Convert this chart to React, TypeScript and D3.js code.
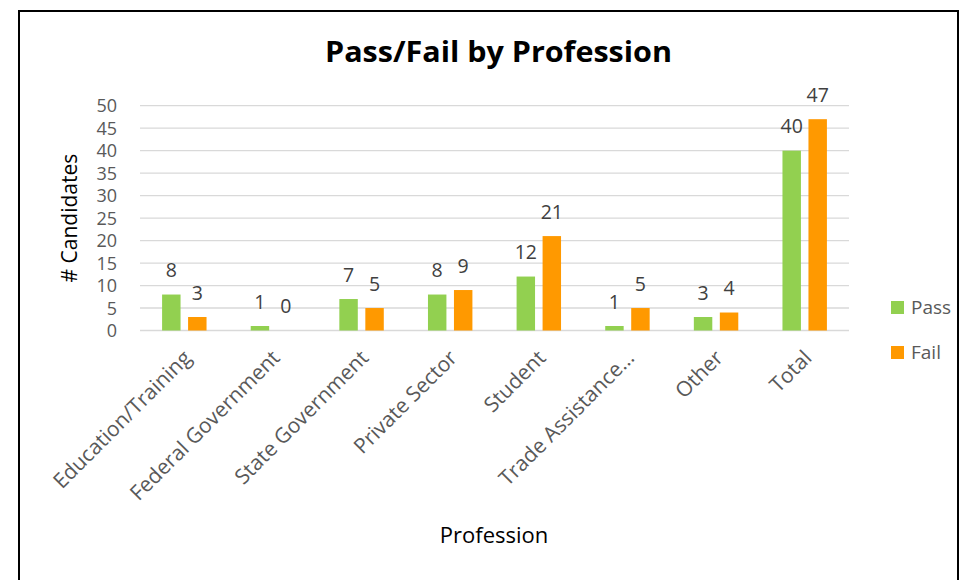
import React from "react";
import * as d3 from "d3";

const categories = [
  "Education/Training",
  "Federal Government",
  "State Government",
  "Private Sector",
  "Student",
  "Trade Assistance…",
  "Other",
  "Total",
];
const passValues = [8, 1, 7, 8, 12, 1, 3, 40];
const failValues = [3, 0, 5, 9, 21, 5, 4, 47];
const seriesNames = ["Pass", "Fail"];
const seriesColors = ["#92D050", "#FF9900"];
const yTicks = [0, 5, 10, 15, 20, 25, 30, 35, 40, 45, 50];

const W = 962;
const H = 580;
const plot = { left: 140, right: 849, top: 105.7, bottom: 330.5 };
const FONT = "'Open Sans', sans-serif";

export default function App() {
  const x = d3.scaleBand<string>().domain(categories).range([plot.left, plot.right]).padding(0);
  const y = d3.scaleLinear().domain([0, 50]).range([plot.bottom, plot.top]);
  const inner = d3
    .scaleBand<string>()
    .domain(seriesNames)
    .range([0, x.bandwidth()])
    .paddingInner(0.29)
    .paddingOuter(0.85);
  const series = [passValues, failValues];

  return (
    <svg
      width={W}
      height={H}
      style={{ position: "absolute", left: 0, top: 0, display: "block", background: "#fff" }}
      fontFamily={FONT}
    >
      <rect x={19} y={11} width={939} height={H + 20} fill="#fff" stroke="#000" strokeWidth={2} />
      <text
        x={325}
        y={62}
        fontSize={29}
        fontWeight="bold"
        fill="#000"
        textLength={347}
        lengthAdjust="spacingAndGlyphs"
      >
        Pass/Fail by Profession
      </text>
      {yTicks.map((t) => (
        <g key={t}>
          <line x1={plot.left} x2={plot.right} y1={y(t)} y2={y(t)} stroke="#D9D9D9" strokeWidth={1.3} />
          <text x={117} y={y(t)} dy="0.36em" textAnchor="end" fontSize={18} fill="#595959">
            {t}
          </text>
        </g>
      ))}
      <text
        transform={`translate(77, ${(plot.top + plot.bottom) / 2}) rotate(-90)`}
        textAnchor="middle"
        fontSize={21}
        fill="#000"
      >
        # Candidates
      </text>
      {categories.map((c, i) => (
        <g key={c}>
          {series.map((vals, s) => {
            const bx = (x(c) as number) + (inner(seriesNames[s]) as number);
            const bw = inner.bandwidth();
            return (
              <g key={s}>
                <rect x={bx} y={y(vals[i])} width={bw} height={plot.bottom - y(vals[i])} fill={seriesColors[s]} />
                <text x={bx + bw / 2} y={y(vals[i]) - 17.3} textAnchor="middle" fontSize={19.5} fill="#404040">
                  {vals[i]}
                </text>
              </g>
            );
          })}
          <text
            transform={`translate(${(x(c) as number) + x.bandwidth() / 2 + 3}, 354) rotate(-45)`}
            dy="0.35em"
            textAnchor="end"
            fontSize={21}
            fill="#595959"
          >
            {c}
          </text>
        </g>
      ))}
      <text x={494} y={543} textAnchor="middle" fontSize={22} fill="#000">
        Profession
      </text>
      {seriesNames.map((n, s) => (
        <g key={n}>
          <rect x={891} y={301 + s * 45} width={13} height={13} fill={seriesColors[s]} />
          <text x={911} y={307.5 + s * 45} dy="0.36em" fontSize={19} fill="#595959">
            {n}
          </text>
        </g>
      ))}
    </svg>
  );
}
